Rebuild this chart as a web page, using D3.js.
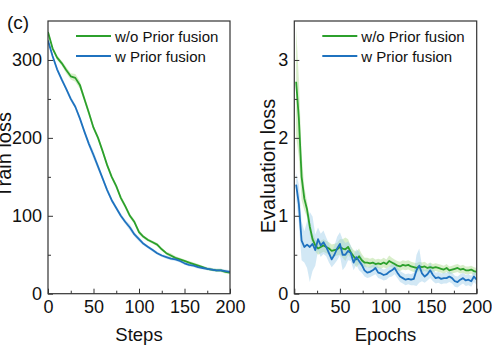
<!DOCTYPE html>
<html>
<head>
<meta charset="utf-8">
<script src="https://cdn.jsdelivr.net/npm/d3@7"></script>
<style>
  body { margin: 0; background: #fff; }
  svg text { font-family: "Liberation Sans", Arial, sans-serif; fill: #111; }
</style>
</head>
<body>
<svg id="chart" width="492" height="347"></svg>
<script>
// ---- data ----
var seriesNames = ["w/o Prior fusion", "w Prior fusion"];

var trainSteps = [0, 5, 10, 15, 20, 25, 30, 35, 40, 45, 50, 55, 60, 65, 70, 75, 80, 85, 90, 95, 100,
    105, 110, 115, 120, 125, 130, 135, 140, 145, 150, 155, 160, 165, 170, 175, 180, 185, 190, 195, 200];
var trainWithout = [336, 315, 303, 296, 287, 279, 277, 268, 250, 232, 213, 200, 183, 165, 150, 138, 123, 112, 100, 92, 79,
    73, 69, 66, 63, 57, 52, 49, 46, 44, 42, 40, 38, 36, 34, 32, 31, 30, 30, 28, 27];
var trainWith = [325, 305, 288, 275, 263, 250, 240, 225, 208, 192, 178, 163, 148, 133, 120, 110, 100, 92, 85, 76, 70,
    64, 60, 56, 52, 49, 47, 45, 44, 42, 39, 37, 36, 34, 33, 32, 31, 30, 30, 29, 28];
var trainWithoutStd = [3, 3, 3, 3, 4, 4, 5, 5, 4, 4, 3, 3, 3, 3, 3, 3, 3, 3, 3, 3, 3,
    2, 2, 2, 2, 2, 2, 3, 2, 2, 2, 2, 2, 2, 2, 2, 2, 2, 2, 2, 2];
var trainWithStd = [3, 3, 3, 3, 3, 3, 3, 3, 3, 4, 5, 4, 3, 3, 3, 3, 3, 3, 4, 3, 3,
    2, 2, 2, 2, 2, 2, 2, 2, 2, 2, 2, 2, 2, 2, 2, 2, 2, 2, 2, 2];

var evalEpochs = [2, 5, 8, 11, 14, 17, 20, 23, 26, 29, 32, 35, 38, 41, 44, 47, 50, 53, 56, 59, 62, 65, 68,
    71, 74, 77, 80, 83, 86, 89, 92, 95, 98, 101, 104, 107, 110, 113, 116, 119, 122, 125, 128, 131, 134,
    137, 140, 143, 146, 149, 152, 155, 158, 161, 164, 167, 170, 173, 176, 179, 182, 185, 188, 191, 194, 197, 200];
var evalWithout = [2.72, 2.25, 1.50, 1.22, 1.08, 0.86, 0.70, 0.62, 0.58, 0.60, 0.62, 0.60, 0.58, 0.55, 0.56, 0.57, 0.60, 0.58, 0.57, 0.60, 0.53, 0.48, 0.44,
    0.48, 0.43, 0.40, 0.40, 0.39, 0.40, 0.38, 0.39, 0.38, 0.40, 0.38, 0.42, 0.40, 0.38, 0.36, 0.35, 0.37, 0.36, 0.37, 0.35, 0.34, 0.33,
    0.35, 0.34, 0.35, 0.33, 0.34, 0.33, 0.34, 0.33, 0.32, 0.31, 0.33, 0.30, 0.31, 0.32, 0.33, 0.31, 0.32, 0.30, 0.30, 0.31, 0.29, 0.28];
var evalWith = [1.40, 1.15, 0.68, 0.60, 0.63, 0.60, 0.64, 0.56, 0.70, 0.62, 0.66, 0.60, 0.52, 0.44, 0.50, 0.58, 0.64, 0.50, 0.50, 0.55, 0.52, 0.40, 0.47,
    0.42, 0.37, 0.30, 0.27, 0.28, 0.30, 0.33, 0.27, 0.26, 0.24, 0.25, 0.28, 0.30, 0.33, 0.27, 0.22, 0.20, 0.18, 0.19, 0.18, 0.19, 0.30,
    0.36, 0.26, 0.22, 0.25, 0.30, 0.24, 0.20, 0.21, 0.19, 0.20, 0.20, 0.22, 0.20, 0.16, 0.15, 0.18, 0.20, 0.17, 0.18, 0.16, 0.22, 0.18];
var evalWithoutStd = [0.70, 0.50, 0.30, 0.15, 0.10, 0.10, 0.08, 0.08, 0.08, 0.08, 0.08, 0.08, 0.08, 0.08, 0.08, 0.08, 0.10, 0.12, 0.15, 0.10, 0.08, 0.08, 0.10,
    0.10, 0.08, 0.06, 0.06, 0.06, 0.06, 0.06, 0.06, 0.06, 0.06, 0.06, 0.07, 0.06, 0.06, 0.06, 0.06, 0.06, 0.06, 0.06, 0.06, 0.06, 0.06,
    0.06, 0.06, 0.06, 0.05, 0.06, 0.05, 0.05, 0.05, 0.05, 0.05, 0.05, 0.05, 0.05, 0.05, 0.05, 0.05, 0.05, 0.05, 0.05, 0.05, 0.05, 0.05];
var evalWithStd = [0.15, 0.25, 0.25, 0.20, 0.30, 0.45, 0.35, 0.20, 0.15, 0.15, 0.15, 0.12, 0.12, 0.10, 0.12, 0.15, 0.15, 0.20, 0.15, 0.12, 0.10, 0.10, 0.10,
    0.12, 0.10, 0.08, 0.07, 0.07, 0.07, 0.08, 0.07, 0.07, 0.07, 0.07, 0.07, 0.08, 0.08, 0.07, 0.07, 0.07, 0.07, 0.07, 0.07, 0.08, 0.20,
    0.22, 0.10, 0.08, 0.08, 0.10, 0.08, 0.07, 0.07, 0.07, 0.07, 0.07, 0.07, 0.07, 0.07, 0.07, 0.07, 0.07, 0.07, 0.07, 0.07, 0.07, 0.07];

var trainYTicks = [0, 100, 200, 300];
var evalYTicks = [0, 1, 2, 3];
var xTicks = [0, 50, 100, 150, 200];

var colors = ["#2ca02c", "#1f72bf"];
var bandColors = ["#a8d98a", "#9ccbe8"];

var svg = d3.select("#chart");

function drawPanel(cfg) {
    var x = d3.scaleLinear().domain([0, 200]).range([cfg.left, cfg.right]);
    var y = d3.scaleLinear().domain([0, cfg.ymax]).range([293.7, 21]);
    var g = svg.append("g");

    var clipId = "clip" + cfg.id;
    svg.append("clipPath").attr("id", clipId)
        .append("rect")
        .attr("x", cfg.left).attr("y", 21)
        .attr("width", cfg.right - cfg.left).attr("height", 293.7 - 21);

    var plot = g.append("g").attr("clip-path", "url(#" + clipId + ")");

    // bands first, then lines
    cfg.series.forEach(function (s, i) {
        var area = d3.area()
            .x(function (d, j) { return x(cfg.xs[j]); })
            .y0(function (d, j) { return y(Math.max(0, d - s.std[j])); })
            .y1(function (d, j) { return y(d + s.std[j]); });
        plot.append("path")
            .attr("d", area(s.values))
            .attr("fill", bandColors[i])
            .attr("opacity", 0.45);
    });
    cfg.series.forEach(function (s, i) {
        var line = d3.line()
            .x(function (d, j) { return x(cfg.xs[j]); })
            .y(function (d) { return y(d); });
        plot.append("path")
            .attr("d", line(s.values))
            .attr("fill", "none")
            .attr("stroke", colors[i])
            .attr("stroke-width", 1.8)
            .attr("stroke-linejoin", "round");
    });

    // axes, ticks pointing inward
    g.append("g").attr("transform", "translate(0,293.7)")
        .call(d3.axisBottom(x).tickValues(xTicks).tickSize(-5).tickPadding(7));
    g.append("g").attr("transform", "translate(0,293.7)")
        .call(d3.axisBottom(x).tickValues([25, 75, 125, 175]).tickSize(-3).tickFormat(""));
    g.append("g").attr("transform", "translate(" + cfg.left + ",0)")
        .call(d3.axisLeft(y).tickValues(cfg.yTicks).tickSize(-5).tickPadding(6)
            .tickFormat(d3.format("~g")));
    g.append("g").attr("transform", "translate(" + cfg.left + ",0)")
        .call(d3.axisLeft(y).tickValues(cfg.yMinor).tickSize(-3).tickFormat(""));

    g.selectAll(".domain").remove();
    g.selectAll(".tick line").attr("stroke", "#333").attr("stroke-width", 1);
    g.selectAll(".tick text").attr("font-size", "18px")
        .attr("font-family", "Liberation Sans, Arial, sans-serif").attr("fill", "#111");

    g.append("rect")
        .attr("x", cfg.left).attr("y", 21)
        .attr("width", cfg.right - cfg.left).attr("height", 293.7 - 21)
        .attr("fill", "none").attr("stroke", "#333").attr("stroke-width", 1.2);

    g.append("text")
        .attr("x", (cfg.left + cfg.right) / 2).attr("y", 341)
        .attr("text-anchor", "middle").attr("font-size", "18.5px")
        .text(cfg.xLabel);

    g.append("text")
        .attr("transform", "translate(" + cfg.yLabelX + "," + cfg.yLabelY + ") rotate(-90)")
        .attr("text-anchor", "middle").attr("font-size", "20px")
        .text(cfg.yLabel);

    // legend
    var leg = g.append("g");
    seriesNames.forEach(function (name, i) {
        var ly = 36 + i * 20;
        leg.append("line")
            .attr("x1", cfg.left + 28).attr("x2", cfg.left + 63)
            .attr("y1", ly).attr("y2", ly)
            .attr("stroke", colors[i]).attr("stroke-width", 2);
        leg.append("text")
            .attr("x", cfg.left + 67).attr("y", ly + 5.5)
            .attr("font-size", "15px")
            .text(name);
    });
}

drawPanel({
    id: "a", left: 48, right: 230, ymax: 350,
    xs: trainSteps,
    series: [{ values: trainWithout, std: trainWithoutStd }, { values: trainWith, std: trainWithStd }],
    yTicks: trainYTicks, yMinor: [50, 150, 250],
    xLabel: "Steps", yLabel: "Train loss", yLabelX: 11, yLabelY: 155
});

drawPanel({
    id: "b", left: 294.3, right: 476.7, ymax: 3.5,
    xs: evalEpochs,
    series: [{ values: evalWithout, std: evalWithoutStd }, { values: evalWith, std: evalWithStd }],
    yTicks: evalYTicks, yMinor: [0.5, 1.5, 2.5],
    xLabel: "Epochs", yLabel: "Evaluation loss", yLabelX: 275, yLabelY: 166
});

svg.append("text")
    .attr("x", 7).attr("y", 29)
    .attr("font-size", "19px")
    .text("(c)");
</script>
</body>
</html>
